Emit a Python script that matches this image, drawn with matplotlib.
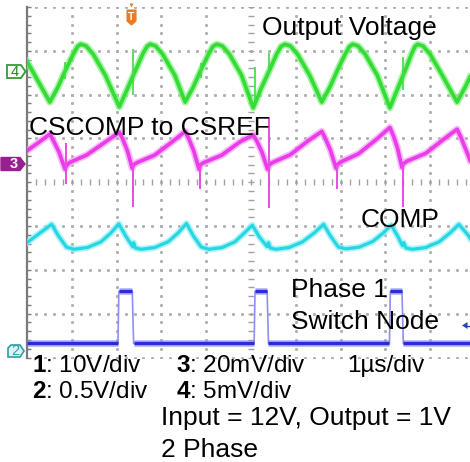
import numpy as np
import matplotlib.pyplot as plt
from matplotlib.patches import Polygon

plt.rcParams['font.family'] = ['Liberation Sans', 'DejaVu Sans']
plt.rcParams['mathtext.fontset'] = 'custom'
plt.rcParams['mathtext.rm'] = 'Liberation Sans'
plt.rcParams['mathtext.bf'] = 'Liberation Sans:bold'

# scope traces: (time in us, level in divisions from centre)
# channel 4 - output voltage
green = [(0.00, 2.76), (0.51, 1.83), (0.69, 2.17), (0.87, 2.58), (1.03, 2.92), (1.13, 3.10), (1.20, 3.15),
         (1.32, 3.11), (1.48, 2.92), (1.75, 2.44),
         (2.06, 1.72), (2.24, 2.13), (2.42, 2.55), (2.58, 2.92), (2.68, 3.10), (2.75, 3.15), (2.87, 3.11),
         (3.03, 2.92), (3.30, 2.44),
         (3.53, 1.83), (3.71, 2.17), (3.89, 2.58), (4.05, 2.92), (4.15, 3.10), (4.24, 3.15), (4.36, 3.11),
         (4.52, 2.92), (4.79, 2.44),
         (5.05, 1.70), (5.23, 2.15), (5.41, 2.55), (5.57, 2.92), (5.67, 3.10), (5.76, 3.15), (5.88, 3.11),
         (6.04, 2.92), (6.31, 2.44),
         (6.58, 1.83), (6.76, 2.17), (6.94, 2.58), (7.10, 2.92), (7.20, 3.10), (7.27, 3.15), (7.39, 3.11),
         (7.55, 2.92), (7.82, 2.44),
         (8.10, 1.70), (8.28, 2.15), (8.44, 2.55), (8.58, 2.92), (8.66, 3.10), (8.72, 3.15), (8.84, 3.11),
         (9.00, 2.92), (9.27, 2.44),
         (9.60, 1.83), (9.78, 2.17), (9.89, 2.40)]
green_spikes = [(0.85, 2.35, 2.75), (2.37, 2.00, 3.04), (3.88, 2.38, 2.72),
                (5.09, 1.85, 2.62), (5.40, 2.50, 2.95), (8.39, 2.10, 2.85)]

# channel 3 - CSCOMP to CSREF
magenta = [(0.00, 0.72), (0.25, 0.90), (0.51, 1.10),
           (0.59, 0.95), (0.71, 0.70), (0.85, 0.30), (0.88, 0.38), (0.95, 0.45), (1.33, 0.62), (1.75, 0.92),
           (2.06, 1.14), (2.14, 0.98), (2.24, 0.72), (2.35, 0.32), (2.38, 0.40), (2.46, 0.45), (2.85, 0.62),
           (3.25, 0.93),
           (3.53, 1.16), (3.61, 1.00), (3.72, 0.72), (3.84, 0.30), (3.87, 0.40), (3.95, 0.45), (4.35, 0.62),
           (4.75, 0.92),
           (5.05, 1.08), (5.13, 0.94), (5.24, 0.70), (5.37, 0.30), (5.41, 0.40), (5.48, 0.45), (5.88, 0.63),
           (6.28, 0.95),
           (6.58, 1.16), (6.66, 1.00), (6.77, 0.74), (6.90, 0.32), (6.93, 0.40), (7.00, 0.46), (7.40, 0.65),
           (7.80, 0.98),
           (8.10, 1.25), (8.18, 1.06), (8.27, 0.78), (8.37, 0.34), (8.40, 0.42), (8.48, 0.48), (8.90, 0.66),
           (9.30, 0.98),
           (9.60, 1.21), (9.68, 1.04), (9.79, 0.76), (9.89, 0.50)]
magenta_spikes = [(0.87, -0.05, 0.90), (2.37, -0.57, 0.45), (3.86, -0.16, 0.40),
                  (5.40, -0.59, 1.48), (6.92, -0.16, 0.40), (8.39, -0.57, 0.45)]

# COMP
cyan = [(0.00, -1.38), (0.30, -1.15), (0.55, -0.96),
        (0.70, -1.22), (0.88, -1.48), (1.05, -1.53), (1.35, -1.49), (1.65, -1.36), (1.87, -1.16),
        (2.05, -0.95), (2.20, -1.22), (2.36, -1.47), (2.38, -1.38), (2.42, -1.50), (2.55, -1.53),
        (2.85, -1.49), (3.15, -1.36), (3.38, -1.15),
        (3.56, -0.94), (3.71, -1.22), (3.89, -1.48), (4.06, -1.53), (4.36, -1.49), (4.64, -1.36), (4.85, -1.16),
        (5.03, -0.98), (5.18, -1.24), (5.36, -1.47), (5.39, -1.38), (5.43, -1.50), (5.55, -1.53),
        (5.85, -1.49), (6.15, -1.36), (6.42, -1.15),
        (6.62, -0.96), (6.77, -1.22), (6.95, -1.48), (7.12, -1.52), (7.42, -1.48), (7.72, -1.35), (7.95, -1.16),
        (8.13, -0.98), (8.28, -1.24), (8.38, -1.45), (8.41, -1.38), (8.46, -1.50), (8.60, -1.53),
        (8.90, -1.49), (9.20, -1.36), (9.45, -1.15),
        (9.64, -0.96), (9.84, -1.20), (9.89, -1.28)]

# channel 2 - phase 1 switch node
blue = [(0.00, -3.68), (2.03, -3.68), (2.05, -2.49), (2.35, -2.49), (2.38, -3.68),
        (5.07, -3.68), (5.09, -2.49), (5.36, -2.49), (5.39, -3.68),
        (8.09, -3.68), (8.11, -2.49), (8.37, -2.49), (8.40, -3.68), (9.89, -3.68)]

fig = plt.figure(figsize=(4.7, 4.62), dpi=100)
ax = fig.add_axes([27 / 470, 1 - 357.5 / 462, 443 / 470, 350.5 / 462])
ax.set_xlim(0, 443 / 44.8)
ax.set_ylim(-4, 4)
ax.set_axis_off()

# graticule
dots = np.arange(-4, 4.001, 0.2)
hdots = np.arange(0.2, 9.9, 0.2)
for xi in range(1, 10):
    if xi != 5:
        ax.plot(np.full(len(dots), xi), dots, ls='none', marker='s', ms=1.1, color='#b0b0b0', zorder=1)
for yi in range(-4, 5):
    if yi != 0:
        ax.plot(hdots, np.full(len(hdots), yi), ls='none', marker='s', ms=1.1, color='#b0b0b0', zorder=1)
ax.plot(np.full(len(dots), 5), dots, ls='none', marker='_', ms=4, mew=1, color='#a0a0a0', zorder=1)
ax.plot(hdots, np.zeros(len(hdots)), ls='none', marker='|', ms=4, mew=1, color='#a0a0a0', zorder=1)
ax.plot([0, 0], [-4, 4], color='#7a7a7a', lw=1.6, clip_on=False, zorder=1)
ax.plot(np.full(len(dots), 0.04), dots, ls='none', marker='_', ms=3, mew=1, color='#7a7a7a',
        clip_on=False, zorder=1)


def trace(points, halo, core, w):
    t, v = zip(*points)
    ax.plot(t, v, color=halo, lw=w + 2.4, alpha=0.7, solid_joinstyle='round', zorder=2)
    ax.plot(t, v, color=core, lw=w, solid_joinstyle='round', zorder=3)


# switch node: thin edges, thick flat parts
bt, bv = zip(*blue)
ax.plot(bt, bv, color='#8f8ff2', lw=1.2, zorder=2)
for i in range(len(blue) - 1):
    if bv[i] == bv[i + 1]:
        ax.plot(bt[i:i + 2], bv[i:i + 2], color='#8c8cf4', lw=4.8, alpha=0.65, solid_capstyle='butt', zorder=2)
        ax.plot(bt[i:i + 2], bv[i:i + 2], color='#2b2bdc', lw=2.4, solid_capstyle='butt', zorder=3)

trace(cyan, '#8ceef4', '#26d6e2', 2.3)
trace(magenta, '#f6a0f6', '#ea3cea', 2.7)
trace(green, '#86f086', '#36dc36', 2.7)

for t, lo, hi in green_spikes:
    ax.vlines(t, lo, hi, color='#40dc40', lw=1.2, zorder=3)
for t, lo, hi in magenta_spikes:
    ax.vlines(t, lo, hi, color='#e84ae8', lw=1.4, zorder=3)

# overlay in screen pixels for labels and scope markers
ov = fig.add_axes([0, 0, 1, 1], zorder=5)
ov.set_xlim(0, 470)
ov.set_ylim(462, 0)
ov.axis('off')
ov.patch.set_alpha(0)

ov.add_patch(Polygon([(7, 65), (21, 65), (25.5, 71.5), (21, 78), (7, 78)],
                     facecolor='white', edgecolor='#2f9f2f', lw=1.3))
ov.text(14.5, 71.8, '4', color='#1f8a1f', fontsize=10.5, ha='center', va='center')
ov.add_patch(Polygon([(1, 157.5), (20, 157.5), (25, 164), (20, 170.5), (1, 170.5)],
                     facecolor='#9a1f90', edgecolor='#9a1f90', lw=1))
ov.text(13.5, 164.3, '3', color='white', fontsize=10.5, fontweight='bold', ha='center', va='center')
ov.add_patch(Polygon([(8, 348), (11, 345), (20, 345), (24, 351), (20, 357), (8, 357)],
                     facecolor='#e2f3f7', edgecolor='#2a9fa8', lw=1.2))
ov.text(15, 351.3, '2', color='#2a9fa8', fontsize=10.5, ha='center', va='center')

ov.add_patch(Polygon([(127, 10), (136, 10), (136, 21), (131.5, 25), (127, 21)],
                     facecolor='#f07a1e', edgecolor='#f07a1e', lw=0.8))
ov.add_patch(Polygon([(129.5, 3.5), (133.5, 3.5), (131.5, 7.5)], facecolor='#f07a1e', edgecolor='none'))
ov.text(131.5, 17, 'T', color='white', fontsize=7.5, fontweight='bold', ha='center', va='center')

ov.add_patch(Polygon([(462, 325.5), (467.5, 322), (467.5, 329)], facecolor='#2444c4', edgecolor='none'))
ov.plot([467, 470], [325.5, 325.5], color='#2444c4', lw=1)

big = 19
ov.text(262, 35, 'Output Voltage', fontsize=big, va='baseline')
ov.text(29, 135, 'CSCOMP to CSREF', fontsize=big, va='baseline')
ov.text(361, 227, 'COMP', fontsize=big, va='baseline')
ov.text(291, 297, 'Phase 1', fontsize=big, va='baseline')
ov.text(291, 329, 'Switch Node', fontsize=big, va='baseline')

small = 17.5
ov.text(32, 372, r'$\mathbf{1}$: 10V/div', fontsize=small, va='baseline')
ov.text(176, 372, r'$\mathbf{3}$: 20mV/div', fontsize=small, va='baseline')
ov.text(347, 372, '1µs/div', fontsize=small, va='baseline')
ov.text(32, 398, r'$\mathbf{2}$: 0.5V/div', fontsize=small, va='baseline')
ov.text(176, 398, r'$\mathbf{4}$: 5mV/div', fontsize=small, va='baseline')
ov.text(161, 425, 'Input = 12V, Output = 1V', fontsize=big, va='baseline')
ov.text(161, 457, '2 Phase', fontsize=big, va='baseline')

fig.savefig('out.png', dpi=100)
